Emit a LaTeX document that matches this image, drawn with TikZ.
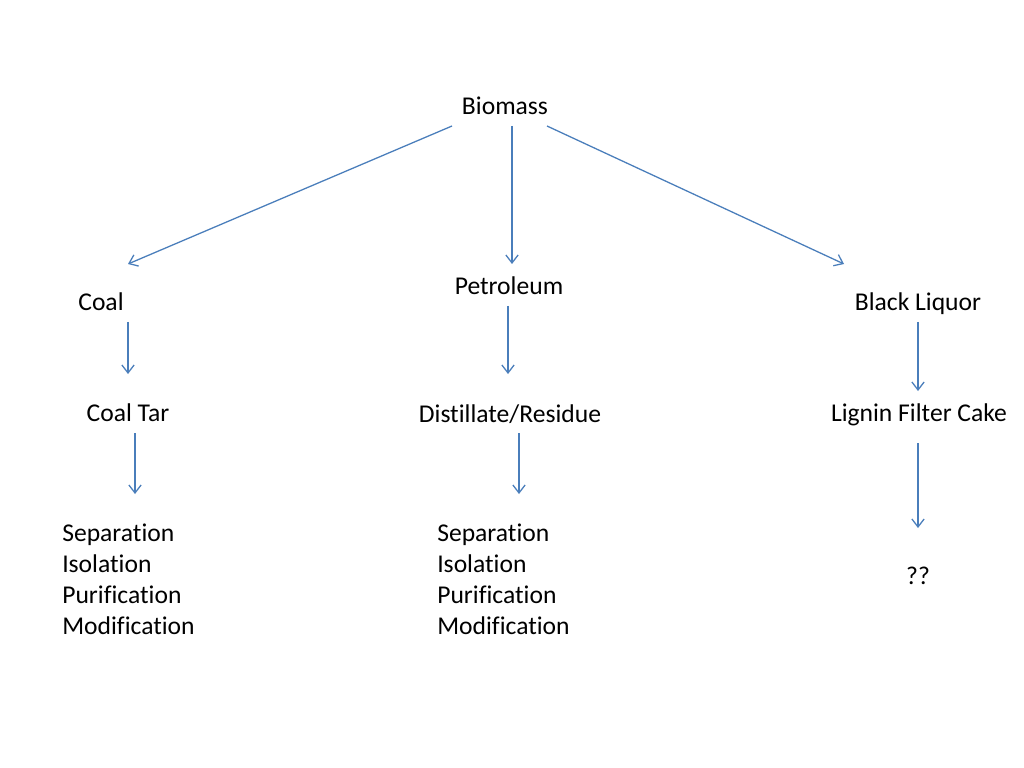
\documentclass[tikz,border=0pt]{standalone}
\usepackage{fontspec}
\setmainfont[Ligatures=NoCommon]{Carlito}
\usetikzlibrary{arrows.meta}
\definecolor{arrowblue}{HTML}{4A7EBB}
\tikzset{
  lbl/.style={inner sep=0pt, font=\fontsize{18}{21.6}\selectfont, text=black},
  lst/.style={lbl, align=left, anchor=north west},
  conn/.style={draw=arrowblue, line width=0.9pt, -{Straight Barb[length=5.6pt,width=8.6pt,line width=0.9pt]}}
}
\begin{document}
\begin{tikzpicture}[x=0.703125pt,y=-0.703125pt]
\useasboundingbox[fill=white] (0,0) rectangle (1024,768);
\node[lbl] (bio) at (505,106) {Biomass};
\node[lbl] (coal) at (101,302) {Coal};
\node[lbl] (pet) at (509,286) {Petroleum};
\node[lbl] (bl) at (918,304) {Black Liquor};
\node[lbl] (tar) at (128,413) {Coal Tar};
\node[lbl] (dist) at (510,414) {Distillate/Residue};
\node[lbl] (lig) at (919,415) {Lignin Filter Cake};
\node[lst] (l1) at (62,524) {Separation\\Isolation\\Purification\\Modification};
\node[lst] (l2) at (437,524) {Separation\\Isolation\\Purification\\Modification};
\node[lbl] (qq) at (918,576) {??};
\draw[conn] ([shift={(-53,20)}]bio.center) -- ([shift={(27,-38)}]coal.center);
\draw[conn] ([shift={(7,20)}]bio.center) -- ([shift={(3,-22)}]pet.center);
\draw[conn] ([shift={(42,20)}]bio.center) -- ([shift={(-74,-40)}]bl.center);
\draw[conn] ([shift={(27,20)}]coal.center) -- ([shift={(0,-39)}]tar.center);
\draw[conn] ([shift={(-1,20)}]pet.center) -- ([shift={(-2,-40)}]dist.center);
\draw[conn] ([shift={(0,18)}]bl.center) -- ([shift={(-1,-24)}]lig.center);
\draw[conn] ([shift={(7,20)}]tar.center) -- ([shift={(73,-30)}]l1.north west);
\draw[conn] ([shift={(9,19)}]dist.center) -- ([shift={(82,-30)}]l2.north west);
\draw[conn] ([shift={(-1,28)}]lig.center) -- ([shift={(0,-48)}]qq.center);
\end{tikzpicture}
\end{document}
